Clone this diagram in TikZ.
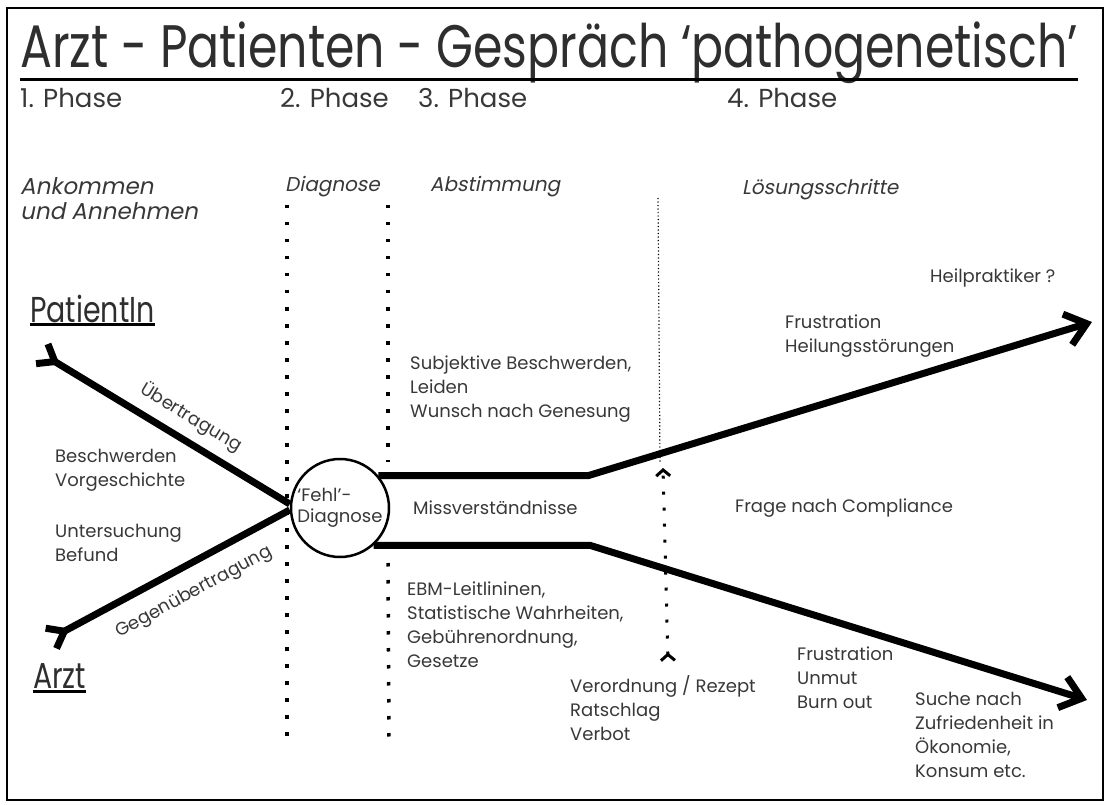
\documentclass[tikz,border=0pt]{standalone}
\usepackage{fontspec}
\setmainfont{Poppins}
\newfontfamily\titlefont[FakeStretch=0.79]{Poppins}
\newfontfamily\slantfont[FakeSlant=0.2]{Poppins}
\usetikzlibrary{arrows.meta}

\tikzset{
  txt/.style={anchor=west, align=left, inner sep=0pt, text=black!78,
    font=\fontsize{18}{24}\selectfont},
  phase/.style={anchor=base west, inner sep=0pt, text=black!78,
    font=\fontsize{26}{30}\selectfont},
  phasename/.style={anchor=west, align=left, inner sep=0pt, text=black!78,
    font=\slantfont\fontsize{20}{23}\selectfont},
  bigname/.style={anchor=base west, inner sep=0pt, text=black!82,
    font=\titlefont\fontsize{36}{40}\selectfont},
  dotline/.style={line width=3.5pt, dash pattern=on 3.5pt off 13.5pt},
  mainline/.style={line width=7pt},
  tailtip/.style={{Straight Barb[reversed,length=15pt,width=23pt]}-},
  headtip/.style={-{Straight Barb[length=20pt,width=32pt]}},
  lbl/.style={inner sep=0pt, text=black!78, font=\fontsize{18}{20}\selectfont}
}

\begin{document}
\begin{tikzpicture}[x=1pt,y=-1pt]
\useasboundingbox (0,0) rectangle (1109,805);
\draw[line width=2pt] (7,8) rectangle (1103,800);

% title
\node[anchor=base west, inner sep=0pt, text=black!82,
  font=\titlefont\fontsize{60}{60}\selectfont] (title) at (20,68)
  {Arzt - Patienten - Gespräch ‘pathogenetisch’};
\draw[line width=3pt] ([yshift=-12pt]title.base west) -- ([yshift=-12pt]title.base east);

% phases
\node[phase] (ph1) at (20,108) {1. Phase};
\node[phase] (ph2) at (280,108) {2. Phase};
\node[phase] (ph3) at (418,108) {3. Phase};
\node[phase] (ph4) at (727,108) {4. Phase};

\node[phasename, font=\slantfont\fontsize{23}{25}\selectfont] (pn1) at (20,199) {Ankommen\\und Annehmen};
\node[phasename] (pn2) at (285,187) {Diagnose};
\node[phasename] (pn3) at (430,187) {Abstimmung};
\node[phasename] (pn4) at (742,190) {Lösungsschritte};

% phase borders
\draw[dotline] (287,205) -- (287,738);
\draw[dotline] (388,205) -- (388,462);
\draw[dotline] (388,563) -- (389,740);
\draw[line width=1.2pt, dash pattern=on 1.2pt off 2.3pt] (658,198) -- (660,462);
\draw[line width=3pt, dash pattern=on 3pt off 13pt,
  {Straight Barb[reversed,length=6pt,width=14pt]}-{Straight Barb[length=6pt,width=14pt]}]
  (668,662) -- (663,468);

% the two sides
\node[bigname] (pat) at (30,322) {PatientIn};
\draw[line width=3pt] ([yshift=-2pt]pat.base west) -- ([yshift=-2pt]pat.base east);
\node[bigname] (arzt) at (33,688) {Arzt};
\draw[line width=3pt] ([yshift=-3pt]arzt.base west) -- ([yshift=-3pt]arzt.base east);

\node[circle, draw, line width=2.5pt, minimum size=98pt, inner sep=0pt,
  align=left, text=black!78, font=\fontsize{18}{21}\selectfont] (fehl) at (340,508)
  {‘Fehl’-\\Diagnose};

\coordinate (ptail) at (39,352);
\coordinate (atail) at (48,640);
\draw[mainline, tailtip] (ptail) -- ([yshift=4pt]fehl.west)
  node[lbl, pos=.56, sloped, above=9pt] {Übertragung};
\draw[mainline, tailtip] (atail) -- ([yshift=-2pt]fehl.west)
  node[lbl, pos=.55, sloped, below=15pt] {Gegenübertragung};

% the way out
\coordinate (uknee) at (588,477);
\coordinate (utip) at (1092,322);
\coordinate (lknee) at (590,545);
\coordinate (ltip) at (1087,700);
\draw[mainline, headtip] (fehl.40) -- (fehl.40 -| uknee) -- (utip);
\draw[mainline, headtip] (fehl.-48) -- (fehl.-48 -| lknee) -- (ltip);

% texts
\node[txt] (beschw) at (55,470) {Beschwerden\\Vorgeschichte};
\node[txt] (unters) at (55,543) {Untersuchung\\Befund};
\node[txt] (subj) at (410,389) {Subjektive Beschwerden,\\Leiden\\Wunsch nach Genesung};
\node[txt] (miss) at (413,508) {Missverständnisse};
\node[txt] (ebm) at (407,625) {EBM-Leitlininen,\\Statistische Wahrheiten,\\Gebührenordnung,\\Gesetze};
\node[txt] (verord) at (570,708) {Verordnung / Rezept\\Ratschlag\\Verbot};
\node[txt] (heil) at (930,278) {Heilpraktiker ?};
\node[txt] (frust1) at (785,336) {Frustration\\Heilungsstörungen};
\node[txt] (compl) at (735,508) {Frage nach Compliance};
\node[txt] (frust2) at (797,678) {Frustration\\Unmut\\Burn out};
\node[txt] (suche) at (915,735) {Suche nach\\Zufriedenheit in\\Ökonomie,\\Konsum etc.};

\end{tikzpicture}
\end{document}
